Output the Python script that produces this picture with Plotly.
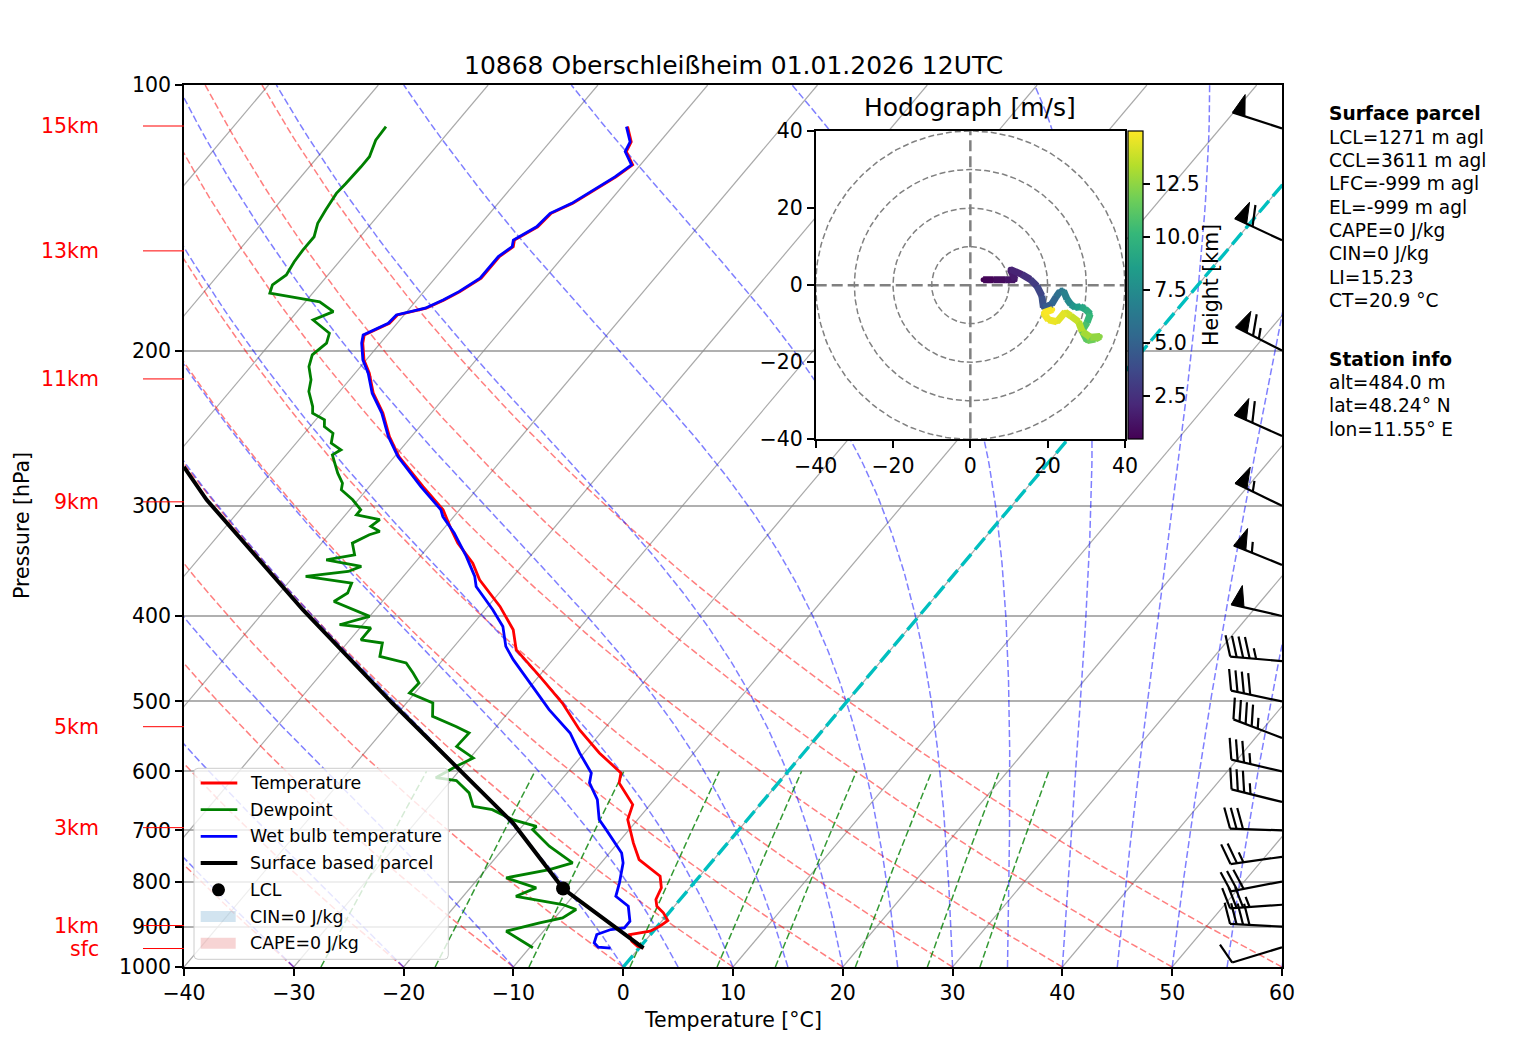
import numpy as np
import plotly.graph_objects as go
from plotly.colors import sample_colorscale

# sounding values (pressure hPa, temperature degC)
p_temp = [111.5, 116.0, 119.0, 123.2, 127.1, 130.4, 136.2, 139.8, 144.8, 149.9, 152.5, 156.5, 160.7, 165.6,
          171.5, 175.3, 179.1, 182.3, 186.3, 192.0, 196.2, 205.0, 212.2, 223.6, 235.5, 250.4, 263.8, 285.3,
          303.1, 318.0, 330.7, 348.4, 363.9, 390.1, 414.6, 436.8, 468.3, 502.0, 538.2, 571.9, 602.5, 618.4,
          654.4, 680.6, 723.3, 755.4, 789.1, 813.3, 838.5, 853.3, 868.1, 885.8, 899.0, 910.8, 918.7, 934.9,
          947.2, 952.0]
t_temp = [-64.1, -62.6, -62.3, -60.7, -61.3, -62.0, -63.2, -64.4, -64.6, -65.7, -65.3, -65.8, -65.8, -65.8,
          -66.7, -67.5, -68.5, -70.6, -70.7, -72.1, -71.6, -70.2, -68.7, -66.8, -64.4, -62.0, -59.6, -55.1,
          -51.5, -49.4, -47.6, -44.7, -42.8, -38.9, -35.9, -34.1, -29.9, -25.8, -22.2, -18.6, -15.1, -14.5,
          -11.6, -10.9, -8.6, -6.8, -3.6, -2.6, -2.2, -1.6, -0.5, 0.5, 0.2, -0.3, -1.9, -1.2,
          -0.3, 0.4]

p_dew = [111.5, 115.5, 120.6, 123.8, 129.3, 132.7, 138.6, 143.5, 148.6, 153.8, 158.6, 164.2, 168.5, 172.2,
         173.8, 176.1, 180.7, 184.7, 191.2, 196.2, 202.3, 208.6, 215.9, 222.6, 231.5, 235.5, 239.7, 243.9,
         248.2, 254.7, 259.2, 262.6, 275.5, 282.8, 287.7, 295.3, 303.1, 307.1, 311.1, 316.6, 320.8, 323.5,
         330.7, 340.9, 345.4, 351.4, 356.1, 360.7, 367.0, 376.7, 385.1, 400.4, 409.2, 412.7, 425.6, 429.2,
         444.5, 452.2, 464.2, 476.4, 489.0, 502.0, 519.8, 533.6, 542.8, 562.2, 579.4, 592.2, 610.0, 614.7,
         634.7, 657.4, 663.1, 680.6, 692.6, 698.6, 729.6, 762.0, 775.4, 792.4, 813.3, 831.4, 849.5, 860.7,
         879.5, 891.1, 910.8, 930.8, 951.1]
t_dew = [-86.1, -86.0, -85.3, -85.3, -85.4, -85.5, -85.2, -84.9, -84.2, -84.2, -84.1, -83.8, -84.3, -83.9,
         -81.8, -78.7, -76.7, -77.9, -75.4, -74.9, -75.3, -74.7, -73.5, -72.8, -71.3, -70.8, -69.2, -68.7,
         -67.4, -66.8, -65.4, -65.8, -63.9, -62.7, -62.3, -60.5, -59.0, -59.0, -56.5, -56.8, -55.6, -56.3,
         -57.2, -56.1, -58.3, -54.6, -55.4, -58.9, -54.2, -53.8, -54.4, -50.0, -52.1, -49.0, -49.0, -46.8,
         -46.0, -43.1, -41.7, -40.4, -40.5, -37.6, -36.6, -33.7, -32.0, -32.1, -29.7, -30.6, -31.6, -29.5,
         -27.4, -26.0, -24.0, -21.4, -18.7, -18.8, -16.0, -12.6, -14.2, -17.5, -14.0, -15.2, -10.3, -8.7,
         -9.3, -11.0, -13.4, -11.6, -9.7]

p_wet = [111.5, 116.0, 119.0, 123.2, 127.1, 130.4, 136.2, 139.8, 144.8, 149.9, 152.5, 156.5, 160.7, 165.6,
         171.5, 175.3, 179.1, 182.3, 186.3, 192.0, 196.2, 205.0, 212.2, 223.6, 235.5, 250.4, 263.8, 285.3,
         303.1, 308.5, 322.1, 342.4, 360.7, 370.3, 393.5, 411.0, 433.0, 448.3, 480.7, 510.8, 542.8, 571.9,
         602.5, 618.4, 646.0, 680.6, 698.6, 742.4, 762.0, 802.8, 831.4, 853.3, 887.4, 902.8, 906.8, 918.7,
         938.8, 949.5, 952.0]
t_wet = [-64.2, -62.7, -62.4, -60.8, -61.4, -62.1, -63.3, -64.5, -64.7, -65.8, -65.4, -65.9, -65.9, -65.9,
         -66.8, -67.6, -68.6, -70.7, -70.8, -72.2, -71.7, -70.3, -68.8, -66.9, -64.5, -62.1, -59.7, -55.3,
         -51.7, -51.0, -48.7, -45.8, -43.5, -42.6, -39.3, -37.1, -35.3, -33.6, -29.8, -26.5, -22.8, -20.4,
         -17.8, -17.2, -15.2, -13.5, -12.1, -8.9, -8.0, -6.8, -6.1, -4.2, -2.9, -2.9, -4.0, -4.9,
         -4.5, -3.8, -2.6]

p_parcel = [952.0, 814.8, 686.5, 592.2, 502.0, 393.5, 295.3, 271.0]
t_parcel = [0.4, -11.5, -21.1, -30.6, -41.3, -56.6, -73.8, -78.4]
p_lcl = 814.8
t_lcl = -11.5

height_labels = ['15km', '13km', '11km', '9km', '5km', '3km', '1km', 'sfc']
height_label_p = [111.3, 154.2, 215.4, 296.9, 534.0, 695.0, 897.4, 952.9]

# wind barbs (knots, direction wind comes from)
barb_p = [112, 150, 200, 250, 300, 350, 400, 450, 500, 550, 600, 650, 700, 750, 800, 850, 900, 950]
barb_spd = [50, 60, 65, 60, 55, 55, 50, 45, 40, 45, 35, 35, 30, 25, 30, 35, 40, 10]
barb_dir = [288, 295, 297, 294, 296, 292, 283, 275, 282, 291, 283, 284, 272, 262, 259, 266, 273, 253]

# hodograph (height km, u and v m/s)
hodo_h = [0.484, 0.8, 1.1, 1.4, 1.7, 2.2, 2.8, 3.3, 3.8, 4.3, 4.9, 5.5, 6.1, 6.6, 7.1, 7.7, 8.2, 8.8, 9.4,
          9.9, 10.5, 11.0, 11.5, 12.0, 12.4, 12.8, 13.2, 13.6, 14.0, 14.3, 14.5, 14.7, 14.85, 15.0]
hodo_u = [3.3, 6.0, 9.0, 11.6, 10.3, 13.3, 15.5, 17.2, 18.5, 18.9, 21.0, 22.2, 23.2, 24.1, 25.0, 26.0, 27.1,
          28.5, 29.7, 31.0, 30.2, 28.9, 30.2, 32.3, 33.6, 31.0, 28.9, 28.0, 26.0, 24.5, 22.4, 20.2, 18.9, 21.3]
hodo_v = [1.4, 1.4, 1.4, 1.4, 4.1, 2.8, 1.5, -0.2, -2.8, -5.8, -5.0, -3.0, -1.6, -1.5, -3.6, -5.0, -5.8,
          -5.6, -6.2, -7.5, -9.7, -11.8, -14.4, -14.0, -13.3, -13.5, -12.0, -9.5, -8.0, -7.0, -9.5, -9.0, -7.2, -6.3]

parcel_info = ['<b>Surface parcel</b>', 'LCL=1271 m agl', 'CCL=3611 m agl', 'LFC=-999 m agl', 'EL=-999 m agl',
               'CAPE=0 J/kg', 'CIN=0 J/kg', 'LI=15.23', 'CT=20.9 °C']
station_info = ['<b>Station info</b>', 'alt=484.0 m', 'lat=48.24° N', 'lon=11.55° E']

TITLE = '10868 Oberschleißheim 01.01.2026 12UTC'

FONT = 'DejaVu Sans'
W, H = 1517, 1054
PL, PT, PW, PH = 184, 85, 1098, 882
SKEW = 29.4


def px2x(px):
    return (px - PL) / PW


def px2y(py):
    return (PT + PH - py) / PH


def skew_x(t, p):
    return np.asarray(t, dtype=float) + SKEW * np.log(1000.0 / np.asarray(p, dtype=float))


def joined(curves):
    xs, ys = [], []
    for x, y in curves:
        xs += list(x) + [None]
        ys += list(y) + [None]
    return xs, ys


fig = go.Figure()

# isotherms
p_line = np.geomspace(1000, 100, 80)
iso = [(skew_x([t0, t0], [1000, 100]), [1000, 100]) for t0 in range(-110, 70, 10)]
x, y = joined(iso)
fig.add_trace(go.Scatter(x=x, y=y, mode='lines', line=dict(color='rgba(140,140,140,0.75)', width=1.2),
                         hoverinfo='skip', showlegend=False))

# dry adiabats
dry = [(skew_x((t0 + 273.15) * (p_line / 1000) ** 0.2857 - 273.15, p_line), p_line) for t0 in range(-40, 61, 10)]
x, y = joined(dry)
fig.add_trace(go.Scatter(x=x, y=y, mode='lines', line=dict(color='rgba(255,0,0,0.5)', width=1.5, dash='7px,3px'),
                         hoverinfo='skip', showlegend=False))

# moist adiabats
Rd, Cp, Lv, eps = 287.04749, 1005.7, 2.50084e6, 0.6219569


def dtdp(p, tk):
    es = 6.112 * np.exp(17.67 * (tk - 273.15) / (tk - 29.65))
    rs = eps * es / (p - es)
    return (Rd * tk + Lv * rs) / (Cp + Lv * Lv * rs * eps / (Rd * tk * tk)) / p


p_moist = np.linspace(1000, 100, 181)
moist = []
for t0 in list(range(-40, 0, 10)) + list(range(0, 61, 5)):
    tk = t0 + 273.15
    temps = [tk]
    for i in range(len(p_moist) - 1):
        p0, h = p_moist[i], p_moist[i + 1] - p_moist[i]
        k1 = dtdp(p0, tk)
        k2 = dtdp(p0 + h / 2, tk + h / 2 * k1)
        k3 = dtdp(p0 + h / 2, tk + h / 2 * k2)
        k4 = dtdp(p0 + h, tk + h * k3)
        tk = tk + h / 6 * (k1 + 2 * k2 + 2 * k3 + k4)
        temps.append(tk)
    moist.append((skew_x(np.array(temps) - 273.15, p_moist), p_moist))
x, y = joined(moist)
fig.add_trace(go.Scatter(x=x, y=y, mode='lines', line=dict(color='rgba(0,0,255,0.5)', width=1.5, dash='7px,3px'),
                         hoverinfo='skip', showlegend=False))

# mixing ratio lines
p_mix = np.linspace(1000, 600, 30)
mix = []
for w in [0.0004, 0.001, 0.002, 0.004, 0.007, 0.01, 0.016, 0.024, 0.032]:
    a = np.log(p_mix * w / (eps + w) / 6.112)
    mix.append((skew_x(243.5 * a / (17.67 - a), p_mix), p_mix))
x, y = joined(mix)
fig.add_trace(go.Scatter(x=x, y=y, mode='lines', line=dict(color='rgba(0,128,0,0.8)', width=1.5, dash='7px,3px'),
                         hoverinfo='skip', showlegend=False))

# 0 degC isotherm
fig.add_trace(go.Scatter(x=skew_x([0, 0], [1000, 100]), y=[1000, 100], mode='lines',
                         line=dict(color='#00bfbf', width=3.4, dash='15px,6px'), hoverinfo='skip', showlegend=False))

# profiles
fig.add_trace(go.Scatter(x=skew_x(t_temp, p_temp), y=p_temp, mode='lines', name='Temperature',
                         line=dict(color='red', width=2.8), showlegend=False))
fig.add_trace(go.Scatter(x=skew_x(t_dew, p_dew), y=p_dew, mode='lines', name='Dewpoint',
                         line=dict(color='green', width=2.8), showlegend=False))
fig.add_trace(go.Scatter(x=skew_x(t_wet, p_wet), y=p_wet, mode='lines', name='Wet bulb temperature',
                         line=dict(color='blue', width=2.8), showlegend=False))
fig.add_trace(go.Scatter(x=skew_x(t_parcel, p_parcel), y=p_parcel, mode='lines', name='Surface based parcel',
                         line=dict(color='black', width=4), showlegend=False))
fig.add_trace(go.Scatter(x=skew_x([t_lcl], [p_lcl]), y=[p_lcl], mode='markers', name='LCL',
                         marker=dict(color='black', size=14), showlegend=False))

# hodograph inset
hx = dict(xaxis='x2', yaxis='y2', hoverinfo='skip', showlegend=False)
fig.add_trace(go.Scatter(x=[-40, 40, 40, -40, -40], y=[-40, -40, 40, 40, -40], mode='lines', fill='toself',
                         fillcolor='white', line=dict(width=0), **hx))
ang = np.linspace(0, 2 * np.pi, 241)
x, y = joined([(r * np.cos(ang), r * np.sin(ang)) for r in (10, 20, 30, 40)])
fig.add_trace(go.Scatter(x=x, y=y, mode='lines', line=dict(color='gray', width=1.5, dash='6px,3px'), **hx))
fig.add_trace(go.Scatter(x=[-40, 40, None, 0, 0], y=[0, 0, None, -40, 40], mode='lines',
                         line=dict(color='gray', width=2.5, dash='11px,5px'), **hx))

hmin, hmax = 0.484, 15.0
fig.add_trace(go.Scatter(
    x=hodo_u, y=hodo_v, mode='markers',
    marker=dict(size=5, color=hodo_h, colorscale='Viridis', cmin=hmin, cmax=hmax, showscale=True,
                colorbar=dict(x=px2x(1128), xanchor='left', y=px2y(131), yanchor='top',
                              len=(439.3 - 131) / PH, lenmode='fraction', thickness=15, thicknessmode='pixels',
                              outlinecolor='black', outlinewidth=1.2, ticks='outside', ticklen=7,
                              tickwidth=1.5, tickcolor='black',
                              tickvals=[2.5, 5, 7.5, 10, 12.5], ticktext=['2.5', '5.0', '7.5', '10.0', '12.5'],
                              tickfont=dict(size=20.5, color='black', family=FONT), xpad=0, ypad=0)),
    **hx))
for i in range(len(hodo_h) - 1):
    frac = ((hodo_h[i] + hodo_h[i + 1]) / 2 - hmin) / (hmax - hmin)
    fig.add_trace(go.Scatter(x=hodo_u[i:i + 2], y=hodo_v[i:i + 2], mode='lines',
                             line=dict(color=sample_colorscale('Viridis', frac)[0], width=7), **hx))

# wind barbs, drawn in pixel units on an overlay axis
L = 52.0
fh, fw, sp = 0.4 * L, 0.25 * L, 0.125 * L
bl_x, bl_y, fl_x, fl_y = [], [], [], []
for p, spd, dr in zip(barb_p, barb_spd, barb_dir):
    th = np.deg2rad(dr)
    d = np.array([np.sin(th), np.cos(th)])
    n = np.array([np.cos(th), -np.sin(th)])
    base = np.array([PW, PH * np.log10(1000.0 / p)])

    def pt(s, h):
        return base + s * d + h * n

    mag = 5 * int(round(spd / 5))
    nflag, nbarb, half = mag // 50, (mag % 50) // 10, (mag % 10) >= 5
    segs = [[pt(0, 0), pt(L, 0)]]
    off = L
    for i in range(nflag):
        if off != L:
            off += sp / 2
        tri = [pt(off, 0), pt(off - fw / 2, fh), pt(off - fw, 0), pt(off, 0)]
        fl_x += [q[0] for q in tri] + [None]
        fl_y += [q[1] for q in tri] + [None]
        off -= fw + sp
    for i in range(nbarb):
        segs.append([pt(off, 0), pt(off + fw / 2, fh)])
        off -= sp
    if half:
        if off == L:
            off -= 1.5 * sp
        segs.append([pt(off, 0), pt(off + fw / 4, fh / 2)])
    for s in segs:
        bl_x += [q[0] for q in s] + [None]
        bl_y += [q[1] for q in s] + [None]

fig.add_trace(go.Scatter(x=bl_x, y=bl_y, mode='lines', line=dict(color='black', width=2.2),
                         xaxis='x3', yaxis='y3', hoverinfo='skip', showlegend=False))
fig.add_trace(go.Scatter(x=fl_x, y=fl_y, mode='lines', fill='toself', fillcolor='black',
                         line=dict(color='black', width=1), xaxis='x3', yaxis='y3', hoverinfo='skip',
                         showlegend=False))

axis_style = dict(showline=True, mirror=True, linecolor='black', linewidth=1.6, ticks='outside', ticklen=7,
                  tickwidth=1.6, tickcolor='black', zeroline=False, tickfont=dict(size=20.5, color='black'))

fig.update_layout(
    width=W, height=H,
    margin=dict(l=PL, r=W - PL - PW, t=PT, b=H - PT - PH),
    paper_bgcolor='white', plot_bgcolor='rgba(0,0,0,0)',
    font=dict(family=FONT, color='black'),
    showlegend=False,
    xaxis=dict(range=[-40, 60], tickmode='array', tickvals=list(range(-40, 61, 10)), showgrid=False, **axis_style),
    yaxis=dict(type='log', range=[3, 2], tickmode='array', tickvals=list(range(100, 1001, 100)),
               ticktext=[str(v) for v in range(100, 1001, 100)], showgrid=True, gridcolor='#b0b0b0',
               gridwidth=1.6, **axis_style),
    xaxis2=dict(domain=[px2x(815.7), px2x(1125)], anchor='y2', range=[-40, 40], tickmode='array',
                tickvals=[-40, -20, 0, 20, 40], showgrid=False, **axis_style),
    yaxis2=dict(domain=[px2y(439.3), px2y(131)], anchor='x2', range=[-40, 40], tickmode='array',
                tickvals=[-40, -20, 0, 20, 40], showgrid=False, **axis_style),
    xaxis3=dict(domain=[0, 1], anchor='y3', range=[0, PW], visible=False, fixedrange=True),
    yaxis3=dict(domain=[0, 1], anchor='x3', range=[0, PH], visible=False, fixedrange=True),
)

ann = [
    dict(text=TITLE, x=0.5, y=px2y(65), font=dict(size=25)),
    dict(text='Hodograph [m/s]', x=px2x(970.3), y=px2y(108), font=dict(size=25)),
    dict(text='Temperature [°C]', x=0.5, y=px2y(1020), font=dict(size=20.5)),
    dict(text='Pressure [hPa]', x=px2x(22), y=0.5, textangle=-90, font=dict(size=20.5)),
    dict(text='Height [km]', x=px2x(1211), y=px2y(285), textangle=-90, font=dict(size=20.5)),
]
for lab, p in zip(height_labels, height_label_p):
    yy = np.log10(1000.0 / p)
    ann.append(dict(text=lab, x=px2x(101), y=yy, xanchor='right', font=dict(size=20.5, color='red')))
    fig.add_shape(type='line', xref='paper', yref='paper', x0=px2x(143), x1=0, y0=yy, y1=yy,
                  line=dict(color='red', width=1))
for i, line in enumerate(parcel_info):
    ann.append(dict(text=line, x=px2x(1327), y=px2y(114 + 23.3 * i), xanchor='left', font=dict(size=18.6)))
for i, line in enumerate(station_info):
    ann.append(dict(text=line, x=px2x(1327), y=px2y(359.3 + 23.3 * i), xanchor='left', font=dict(size=18.6)))

# legend box drawn by hand (matplotlib style)
bx0, bx1, by0, by1 = px2x(194), px2x(448.3), px2y(959.3), px2y(768.3)
rx, ry = 4 / PW, 4 / PH
fig.add_shape(type='path', xref='paper', yref='paper', layer='above',
              path=(f'M{bx0 + rx},{by0} L{bx1 - rx},{by0} Q{bx1},{by0} {bx1},{by0 + ry} '
                    f'L{bx1},{by1 - ry} Q{bx1},{by1} {bx1 - rx},{by1} L{bx0 + rx},{by1} '
                    f'Q{bx0},{by1} {bx0},{by1 - ry} L{bx0},{by0 + ry} Q{bx0},{by0} {bx0 + rx},{by0} Z'),
              fillcolor='rgba(255,255,255,0.8)', line=dict(color='#cccccc', width=1))
legend_items = [('Temperature', 'line', 'red', 2.8), ('Dewpoint', 'line', 'green', 2.8),
                ('Wet bulb temperature', 'line', 'blue', 2.8), ('Surface based parcel', 'line', 'black', 4),
                ('LCL', 'dot', 'black', 0), ('CIN=0 J/kg', 'patch', 'rgba(31,119,180,0.2)', 0),
                ('CAPE=0 J/kg', 'patch', 'rgba(214,39,40,0.2)', 0)]
for i, (lab, kind, col, lw) in enumerate(legend_items):
    yc = 783.0 + 26.7 * i
    if kind == 'line':
        fig.add_shape(type='line', xref='paper', yref='paper', layer='above', x0=px2x(200.7), x1=px2x(237.3),
                      y0=px2y(yc), y1=px2y(yc), line=dict(color=col, width=lw))
    elif kind == 'dot':
        fig.add_shape(type='circle', xref='paper', yref='paper', layer='above', x0=px2x(212), x1=px2x(225),
                      y0=px2y(yc + 6.5), y1=px2y(yc - 6.5), fillcolor=col, line=dict(width=0))
    else:
        fig.add_shape(type='rect', xref='paper', yref='paper', layer='above', x0=px2x(200.7), x1=px2x(235.7),
                      y0=px2y(yc + 5.5), y1=px2y(yc - 5.5), fillcolor=col, line=dict(width=0))
    ann.append(dict(text=lab, x=px2x(247.5), y=px2y(yc), xanchor='left', font=dict(size=17.4)))

for a in ann:
    a.setdefault('xanchor', 'center')
    fig.add_annotation(xref='paper', yref='paper', yanchor='middle', showarrow=False,
                       font=dict(family=FONT, color=a['font'].get('color', 'black'), size=a['font']['size']),
                       **{k: v for k, v in a.items() if k != 'font'})

fig.write_html("out.html", config={'displayModeBar': False},
               post_script="document.body.style.margin='0';")
